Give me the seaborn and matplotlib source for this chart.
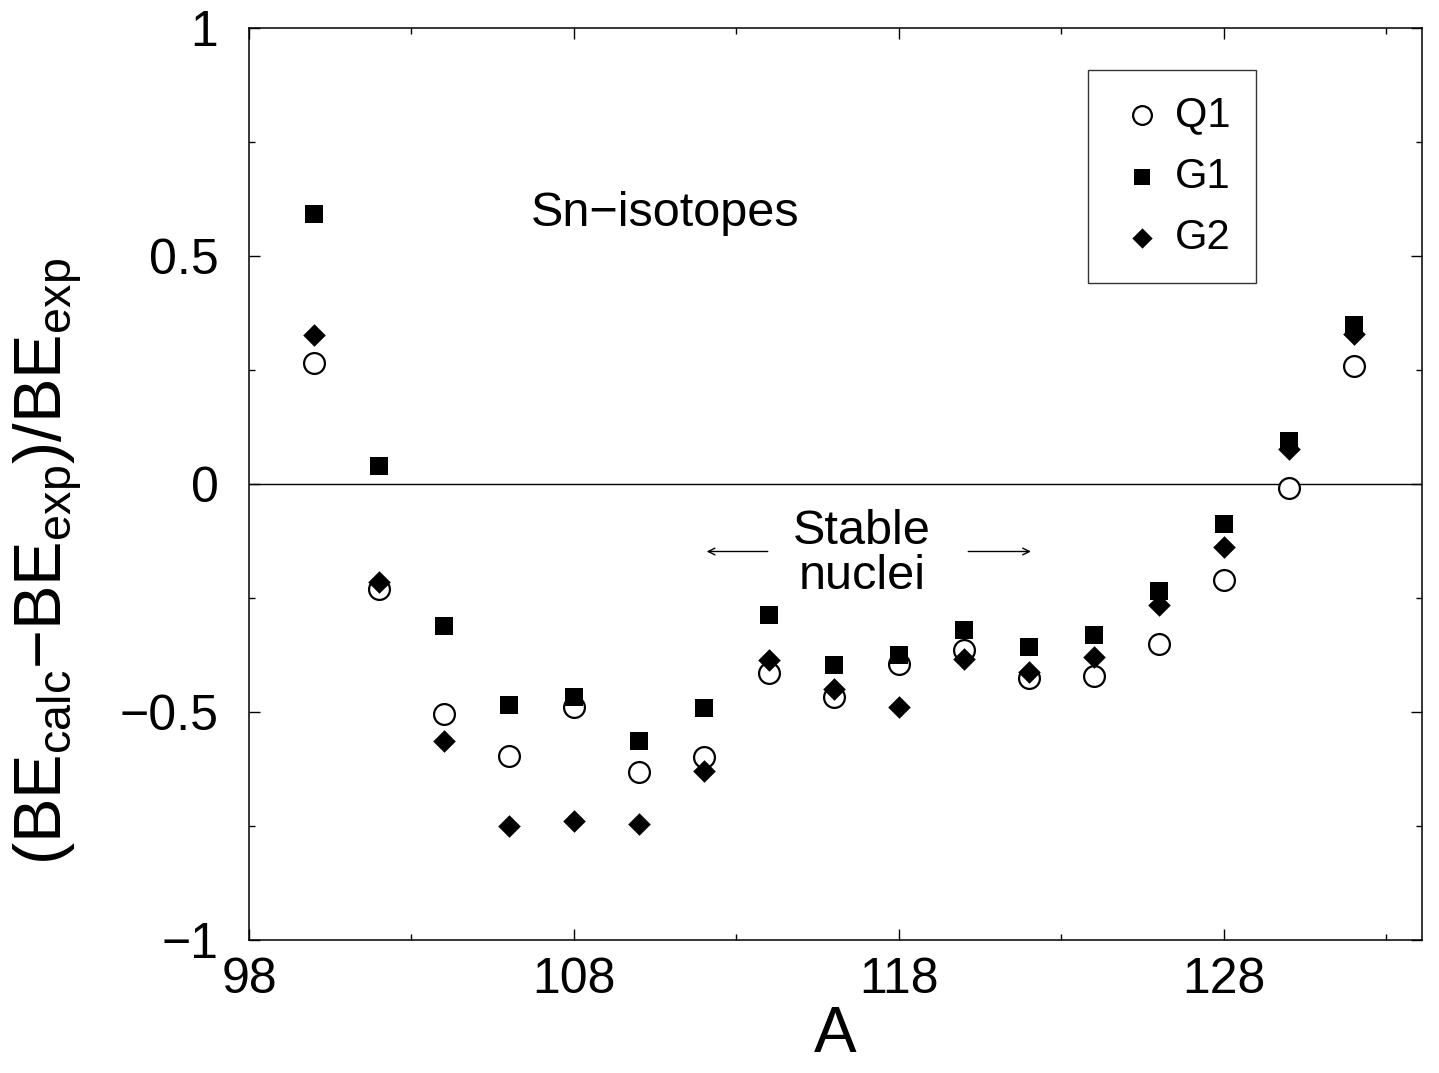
import numpy as np
import pandas as pd
import matplotlib
matplotlib.use("Agg")
import matplotlib.pyplot as plt
import seaborn as sns
from matplotlib import font_manager
from matplotlib.ticker import MultipleLocator

A = [100, 102, 104, 106, 108, 110, 112, 114, 116, 118, 120, 122, 124, 126, 128, 130, 132]
q1 = [0.265, -0.230, -0.504, -0.596, -0.489, -0.632, -0.599, -0.414, -0.467, -0.395,
      -0.364, -0.425, -0.421, -0.351, -0.211, -0.009, 0.259]
g1 = [0.592, 0.039, -0.311, -0.485, -0.467, -0.564, -0.491, -0.287, -0.397, -0.375,
      -0.320, -0.357, -0.331, -0.235, -0.088, 0.094, 0.349]
g2 = [0.327, -0.215, -0.564, -0.750, -0.739, -0.746, -0.629, -0.386, -0.450, -0.489,
      -0.384, -0.412, -0.379, -0.265, -0.138, 0.077, 0.329]
xtick_vals = [98, 108, 118, 128]
ytick_vals = [-1, -0.5, 0, 0.5, 1]
ytick_labels = ['\u22121', '\u22120.5', '0', '0.5', '1']

sns.set_theme(style="ticks")
plt.rcParams['font.family'] = ['Liberation Sans', 'DejaVu Sans']
for k in ['text.color', 'axes.labelcolor', 'xtick.color', 'ytick.color', 'axes.edgecolor']:
    plt.rcParams[k] = 'black'

names = {f.name for f in font_manager.fontManager.ttflist}
HAS_NARROW = 'Liberation Sans Narrow' in names
NARROW = 'Liberation Sans Narrow' if HAS_NARROW else 'Liberation Sans'

plt.rcParams['mathtext.fontset'] = 'custom'
plt.rcParams['mathtext.rm'] = NARROW
plt.rcParams['mathtext.it'] = NARROW + ':italic'
plt.rcParams['mathtext.bf'] = NARROW + ':bold'

fig = plt.figure(figsize=(14.39, 10.73), dpi=100)
ax = fig.add_axes([249/1439, 1 - 940/1073, (1422-249)/1439, (940-28)/1073])

df_q1 = pd.DataFrame({"A": A, "v": q1})
df_g1 = pd.DataFrame({"A": A, "v": g1})
df_g2 = pd.DataFrame({"A": A, "v": g2})

ax.axhline(0, color='black', lw=1.0, zorder=1)

sns.scatterplot(data=df_q1, x="A", y="v", ax=ax, marker='o', s=15**2,
                facecolor='white', edgecolor='black', linewidth=1.6, label='Q1', zorder=3)
sns.scatterplot(data=df_g1, x="A", y="v", ax=ax, marker='s', s=13.5**2,
                color='black', edgecolor='black', linewidth=0, label='G1', zorder=4)
sns.scatterplot(data=df_g2, x="A", y="v", ax=ax, marker='D', s=11.5**2,
                color='black', edgecolor='black', linewidth=0, label='G2', zorder=5)

ax.set_xlim(98, 134.1)
ax.set_ylim(-1, 1)
ax.set_xticks(xtick_vals)
ax.set_xticks([103, 113, 123, 133], minor=True)
ax.set_yticks(ytick_vals)
ax.set_yticklabels(ytick_labels)
ax.yaxis.set_minor_locator(MultipleLocator(0.25))

tick_size = 40 if HAS_NARROW else 36
ax.tick_params(which='both', direction='in', top=True, right=True, width=1.0, color='black')
ax.tick_params(which='major', length=8, labelsize=tick_size)
ax.tick_params(which='minor', length=4.5)
ax.tick_params(axis='x', which='major', pad=12)
ax.tick_params(axis='y', which='major', pad=22)
for lab in ax.get_xticklabels() + ax.get_yticklabels():
    lab.set_fontfamily([NARROW, 'DejaVu Sans'])
for sp in ax.spines.values():
    sp.set_linewidth(1.1)
    sp.set_color('black')

ax.set_xlabel('A', fontsize=46, labelpad=2)
ylab_size = 58 if HAS_NARROW else 48
ax.set_ylabel(r'$(\mathrm{BE}_{\mathrm{calc}}\mathrm{-BE}_{\mathrm{exp}})/\mathrm{BE}_{\mathrm{exp}}$',
              fontsize=ylab_size, va='center', ha='center')
ax.yaxis.set_label_coords(-0.172, 0.415)

ax.text(106.68, 0.594, 'Sn\u2212isotopes', fontsize=35, ha='left', va='center')
ax.text(116.86, -0.153, 'Stable\nnuclei', fontsize=35, ha='center', va='center',
        linespacing=1.0)
ax.annotate('', xy=(112.0, -0.148), xytext=(114.05, -0.148),
            arrowprops=dict(arrowstyle='->', lw=1.0, color='black'))
ax.annotate('', xy=(122.15, -0.148), xytext=(120.05, -0.148),
            arrowprops=dict(arrowstyle='->', lw=1.0, color='black'))

leg = ax.legend(loc='upper left', bbox_to_anchor=(0.715, 0.954), fontsize=30,
                frameon=True, fancybox=False, markerscale=0.9, handletextpad=0.1,
                handlelength=1.4, labelspacing=0.52, borderpad=0.6, borderaxespad=0)
leg.get_frame().set_edgecolor('black')
leg.get_frame().set_linewidth(1.0)

fig.savefig('out.png', dpi=100)
